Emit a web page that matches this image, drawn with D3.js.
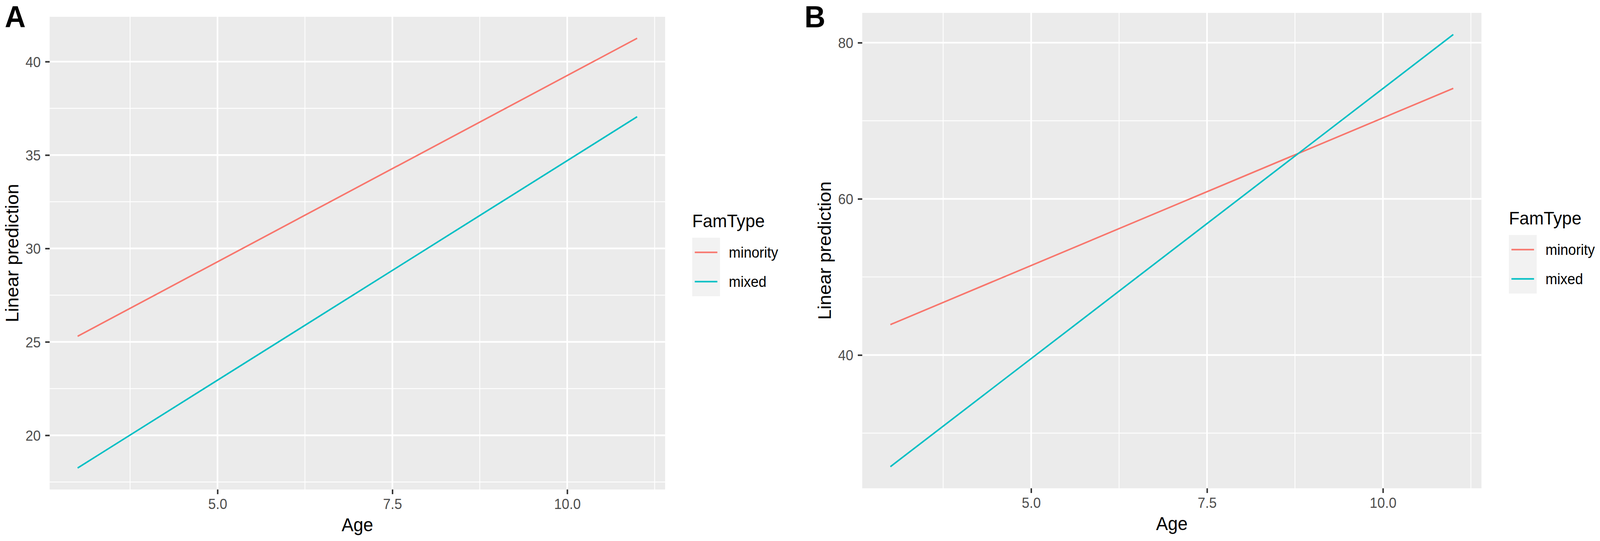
<!DOCTYPE html>
<html>
<head>
<meta charset="utf-8">
<script src="https://cdn.jsdelivr.net/npm/d3@7"></script>
<style>
  html, body { margin: 0; padding: 0; width: 100%; height: 100%; overflow: hidden; background: #ffffff; }
  #fig { width: 100vw; height: 100vh; }
  svg { display: block; }
  text { font-family: "Liberation Sans", Arial, Helvetica, sans-serif; }
</style>
</head>
<body>
<div id="fig"></div>
<script>

// Data (fitted lines, age 3 to 11)
var ages = [3, 11];
var famTypes = ["minority", "mixed"];
var famColors = ["#F8766D", "#00BFC4"];
var predA_minority = [25.3, 41.25];
var predA_mixed = [18.25, 37.05];
var predB_minority = [43.9, 74.15];
var predB_mixed = [25.7, 81.05];
var xTicks = [5.0, 7.5, 10.0];
var yTicksA = [20, 25, 30, 35, 40];
var yTicksB = [40, 60, 80];

var W = 4318, H = 1386;

// viewBox stretched to the window so the layout always fills it
var svg = d3.select("#fig").append("svg")
  .attr("viewBox", "0 0 " + W + " " + H)
  .attr("preserveAspectRatio", "none")
  .attr("width", "100%")
  .attr("height", "100%");

// ggplot style 5% expansion of the data range
function expand(ext) {
  var pad = (ext[1] - ext[0]) * 0.05;
  return [ext[0] - pad, ext[1] + pad];
}

// minor breaks = midpoints between majors, extended one step each side
function minorBreaks(majors, domain) {
  var step = majors[1] - majors[0];
  var out = [];
  for (var v = majors[0] - step / 2; v <= domain[1]; v += step) {
    if (v >= domain[0]) out.push(v);
  }
  return out;
}

function drawPanel(opt) {
  var g = svg.append("g");
  var series = [opt.minority, opt.mixed];

  var xx = d3.scaleLinear().domain(expand(d3.extent(ages))).range([opt.left, opt.right]);
  var allY = opt.minority.concat(opt.mixed);
  var yy = d3.scaleLinear().domain(expand(d3.extent(allY))).range([opt.bottom, opt.top]);

  // panel background
  g.append("rect")
    .attr("x", opt.left).attr("y", opt.top)
    .attr("width", opt.right - opt.left)
    .attr("height", opt.bottom - opt.top)
    .attr("fill", "#EBEBEB");

  // minor grid
  g.selectAll(".minorY").data(minorBreaks(opt.yTicks, yy.domain())).enter()
    .append("line")
    .attr("x1", opt.left).attr("x2", opt.right)
    .attr("y1", function(d) { return yy(d); })
    .attr("y2", function(d) { return yy(d); })
    .attr("stroke", "#ffffff").attr("stroke-width", 2.2);
  g.selectAll(".minorX").data(minorBreaks(xTicks, xx.domain())).enter()
    .append("line")
    .attr("y1", opt.top).attr("y2", opt.bottom)
    .attr("x1", function(d) { return xx(d); })
    .attr("x2", function(d) { return xx(d); })
    .attr("stroke", "#ffffff").attr("stroke-width", 2.2);

  // major grid
  g.selectAll(".majorY").data(opt.yTicks).enter()
    .append("line")
    .attr("x1", opt.left).attr("x2", opt.right)
    .attr("y1", function(d) { return yy(d); })
    .attr("y2", function(d) { return yy(d); })
    .attr("stroke", "#ffffff").attr("stroke-width", 4.4);
  g.selectAll(".majorX").data(xTicks).enter()
    .append("line")
    .attr("y1", opt.top).attr("y2", opt.bottom)
    .attr("x1", function(d) { return xx(d); })
    .attr("x2", function(d) { return xx(d); })
    .attr("stroke", "#ffffff").attr("stroke-width", 4.4);

  // lines
  var line = d3.line()
    .x(function(d, i) { return xx(ages[i]); })
    .y(function(d) { return yy(d); });
  series.forEach(function(s, i) {
    g.append("path")
      .datum(s)
      .attr("fill", "none")
      .attr("stroke", famColors[i])
      .attr("stroke-width", 4)
      .attr("d", line);
  });

  // axes
  var xAxis = g.append("g")
    .attr("transform", "translate(0," + opt.bottom + ")")
    .call(d3.axisBottom(xx).tickValues(xTicks).tickFormat(d3.format(".1f")).tickSize(12).tickPadding(12));
  var yAxis = g.append("g")
    .attr("transform", "translate(" + opt.left + ",0)")
    .call(d3.axisLeft(yy).tickValues(opt.yTicks).tickFormat(d3.format("d")).tickSize(12).tickPadding(12));
  [xAxis, yAxis].forEach(function(a) {
    a.select(".domain").remove();
    a.selectAll(".tick line").attr("stroke", "#333333").attr("stroke-width", 4);
    a.selectAll(".tick text").attr("fill", "#4D4D4D").style("font-size", "37px");
  });
  yAxis.selectAll(".tick text").attr("dy", "0.36em");

  // axis titles
  g.append("text")
    .attr("x", (opt.left + opt.right) / 2)
    .attr("y", opt.ageY)
    .attr("text-anchor", "middle")
    .style("font-size", "48px")
    .attr("fill", "#000")
    .text("Age");
  g.append("text")
    .attr("transform", "translate(" + opt.ytitleX + "," + ((opt.top + opt.bottom) / 2) + ") rotate(-90)")
    .attr("text-anchor", "middle")
    .attr("dy", "0.35em")
    .style("font-size", "48px")
    .attr("fill", "#000")
    .text("Linear prediction");

  // panel tag
  g.append("text")
    .attr("x", opt.tagX).attr("y", 70)
    .style("font-size", "78px")
    .style("font-weight", "bold")
    .attr("fill", "#000")
    .text(opt.tag);

  // legend
  var lg = g.append("g").attr("transform", "translate(" + opt.legX + "," + opt.legY + ")");
  lg.append("text")
    .attr("x", 0).attr("y", 0)
    .style("font-size", "47px")
    .attr("fill", "#000")
    .text("FamType");
  var keyH = 75, keyW = 75;
  famTypes.forEach(function(f, i) {
    var ky = 27 + i * keyH;
    lg.append("rect")
      .attr("x", 0).attr("y", ky)
      .attr("width", keyW).attr("height", keyH)
      .attr("fill", "#F2F2F2");
    lg.append("line")
      .attr("x1", 7).attr("x2", keyW - 7)
      .attr("y1", ky + keyH / 2).attr("y2", ky + keyH / 2)
      .attr("stroke", famColors[i]).attr("stroke-width", 4);
    lg.append("text")
      .attr("x", keyW + 24).attr("y", ky + keyH / 2)
      .attr("dy", "0.35em")
      .style("font-size", "38px")
      .attr("fill", "#000")
      .text(f);
  });
}

drawPanel({
  tag: "A", tagX: 13,
  left: 134, right: 1795, top: 43, bottom: 1254,
  minority: predA_minority, mixed: predA_mixed,
  yTicks: yTicksA, ytitleX: 33, ageY: 1361,
  legX: 1868, legY: 582
});

drawPanel({
  tag: "B", tagX: 2171,
  left: 2327, right: 3998, top: 33, bottom: 1251,
  minority: predB_minority, mixed: predB_mixed,
  yTicks: yTicksB, ytitleX: 2225, ageY: 1358,
  legX: 4072, legY: 575
});

</script>
</body>
</html>
